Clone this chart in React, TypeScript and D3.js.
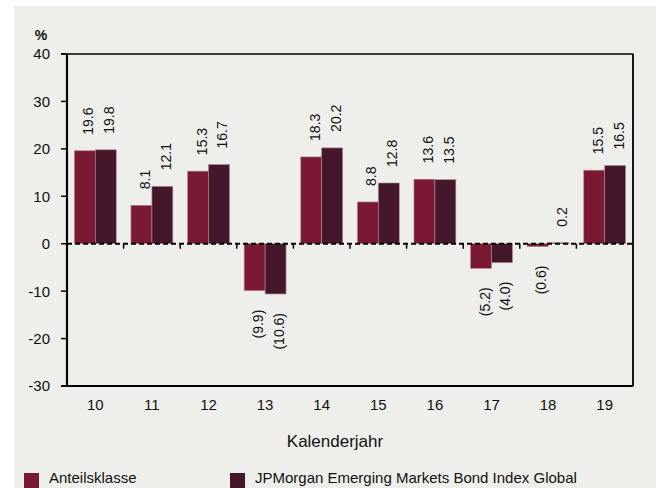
import React from "react";
import * as d3 from "d3";

const categories = ["10", "11", "12", "13", "14", "15", "16", "17", "18", "19"];
const seriesNames = ["Anteilsklasse", "JPMorgan Emerging Markets Bond Index Global"];
const anteilsklasse = [19.6, 8.1, 15.3, -9.9, 18.3, 8.8, 13.6, -5.2, -0.6, 15.5];
const benchmark = [19.8, 12.1, 16.7, -10.6, 20.2, 12.8, 13.5, -4.0, 0.2, 16.5];
const yTicks = [-30, -20, -10, 0, 10, 20, 30, 40];
const colors = ["#7B1832", "#45172A"];

const W = 659;
const H = 488;
const FONT = "'Liberation Sans', Arial, sans-serif";

export default function App() {
  const left = 67, right = 633, top = 54, bottom = 386;
  const x = d3.scaleBand<string>().domain(categories).range([left, right]).paddingInner(0.26).paddingOuter(0.13);
  const x1 = d3.scaleBand<string>().domain(["a", "b"]).range([0, x.bandwidth()]);
  const y = d3.scaleLinear().domain([-30, 40]).range([bottom, top]);
  const y0 = y(0);
  const step = x.step();
  const series = [anteilsklasse, benchmark];
  const keys = ["a", "b"];
  const fmt = (v: number) => (v < 0 ? `(${Math.abs(v).toFixed(1)})` : v.toFixed(1));

  return (
    <svg width={W} height={H} style={{ position: "absolute", left: 0, top: 0, display: "block" }} fontFamily={FONT}>
      <rect x={0} y={0} width={W} height={H} fill="#ffffff" />
      <rect x={14} y={6} width={642} height={482} fill="#EEEEEA" />

      {/* bars */}
      {series.map((vals, si) =>
        vals.map((v, i) => {
          const bx = (x(categories[i]) as number) + (x1(keys[si]) as number);
          const yTop = Math.min(y(v), y0);
          const h = Math.abs(y(v) - y0);
          return (
            <rect key={`b${si}-${i}`} x={bx} y={yTop} width={x1.bandwidth()} height={h}
              fill={colors[si]} stroke="#b08a95" strokeWidth={0.6} />
          );
        })
      )}

      {/* frame */}
      <line x1={61} x2={right} y1={top} y2={top} stroke="#000" strokeWidth={1.5} />
      <line x1={right} x2={right} y1={top} y2={bottom} stroke="#000" strokeWidth={1.8} />
      <line x1={61} x2={right} y1={bottom} y2={bottom} stroke="#000" strokeWidth={2} />
      <line x1={left} x2={left} y1={top} y2={bottom} stroke="#000" strokeWidth={2.2} />

      {/* y ticks */}
      {yTicks.map((t) => (
        <g key={`yt${t}`}>
          <line x1={61} x2={left} y1={y(t)} y2={y(t)} stroke="#000" strokeWidth={1.5} />
          <text x={50} y={y(t)} dy="0.36em" textAnchor="end" fontSize={15} fill="#111">{t}</text>
        </g>
      ))}

      {/* zero line dashed */}
      <line x1={left} x2={right} y1={y0} y2={y0} stroke="#000" strokeWidth={2} strokeDasharray="5,3" />
      {categories.slice(1).map((c, i) => {
        const bx = (x(c) as number) - step * 0.13;
        return <line key={`ct${i}`} x1={bx} x2={bx} y1={y0} y2={y0 + 5} stroke="#000" strokeWidth={1.5} />;
      })}

      {/* value labels */}
      {series.map((vals, si) =>
        vals.map((v, i) => {
          const cx = (x(categories[i]) as number) + (x1(keys[si]) as number) + x1.bandwidth() / 2 + 8.5;
          const pos = v >= 0;
          const yy = pos ? y(v) - 16 : y(v) + 19;
          return (
            <text key={`l${si}-${i}`} transform={`translate(${cx},${yy}) rotate(-90)`}
              textAnchor={pos ? "start" : "end"} fontSize={14} fill="#111">{fmt(v)}</text>
          );
        })
      )}

      {/* x labels */}
      {categories.map((c) => (
        <text key={`xl${c}`} x={(x(c) as number) + x.bandwidth() / 2} y={410} textAnchor="middle" fontSize={15} fill="#111">{c}</text>
      ))}

      <text x={335} y={447} textAnchor="middle" fontSize={17} fill="#111">Kalenderjahr</text>
      <text x={41} y={40} textAnchor="middle" fontSize={14} fontWeight="bold" fill="#111">%</text>

      {/* legend */}
      {seriesNames.map((n, i) => {
        const lx = i === 0 ? 24 : 230;
        return (
          <g key={`lg${i}`}>
            <rect x={lx} y={473} width={15} height={15} fill={colors[i]} />
            <text x={lx + 25} y={483} fontSize={15} fill="#111">{n}</text>
          </g>
        );
      })}
    </svg>
  );
}
